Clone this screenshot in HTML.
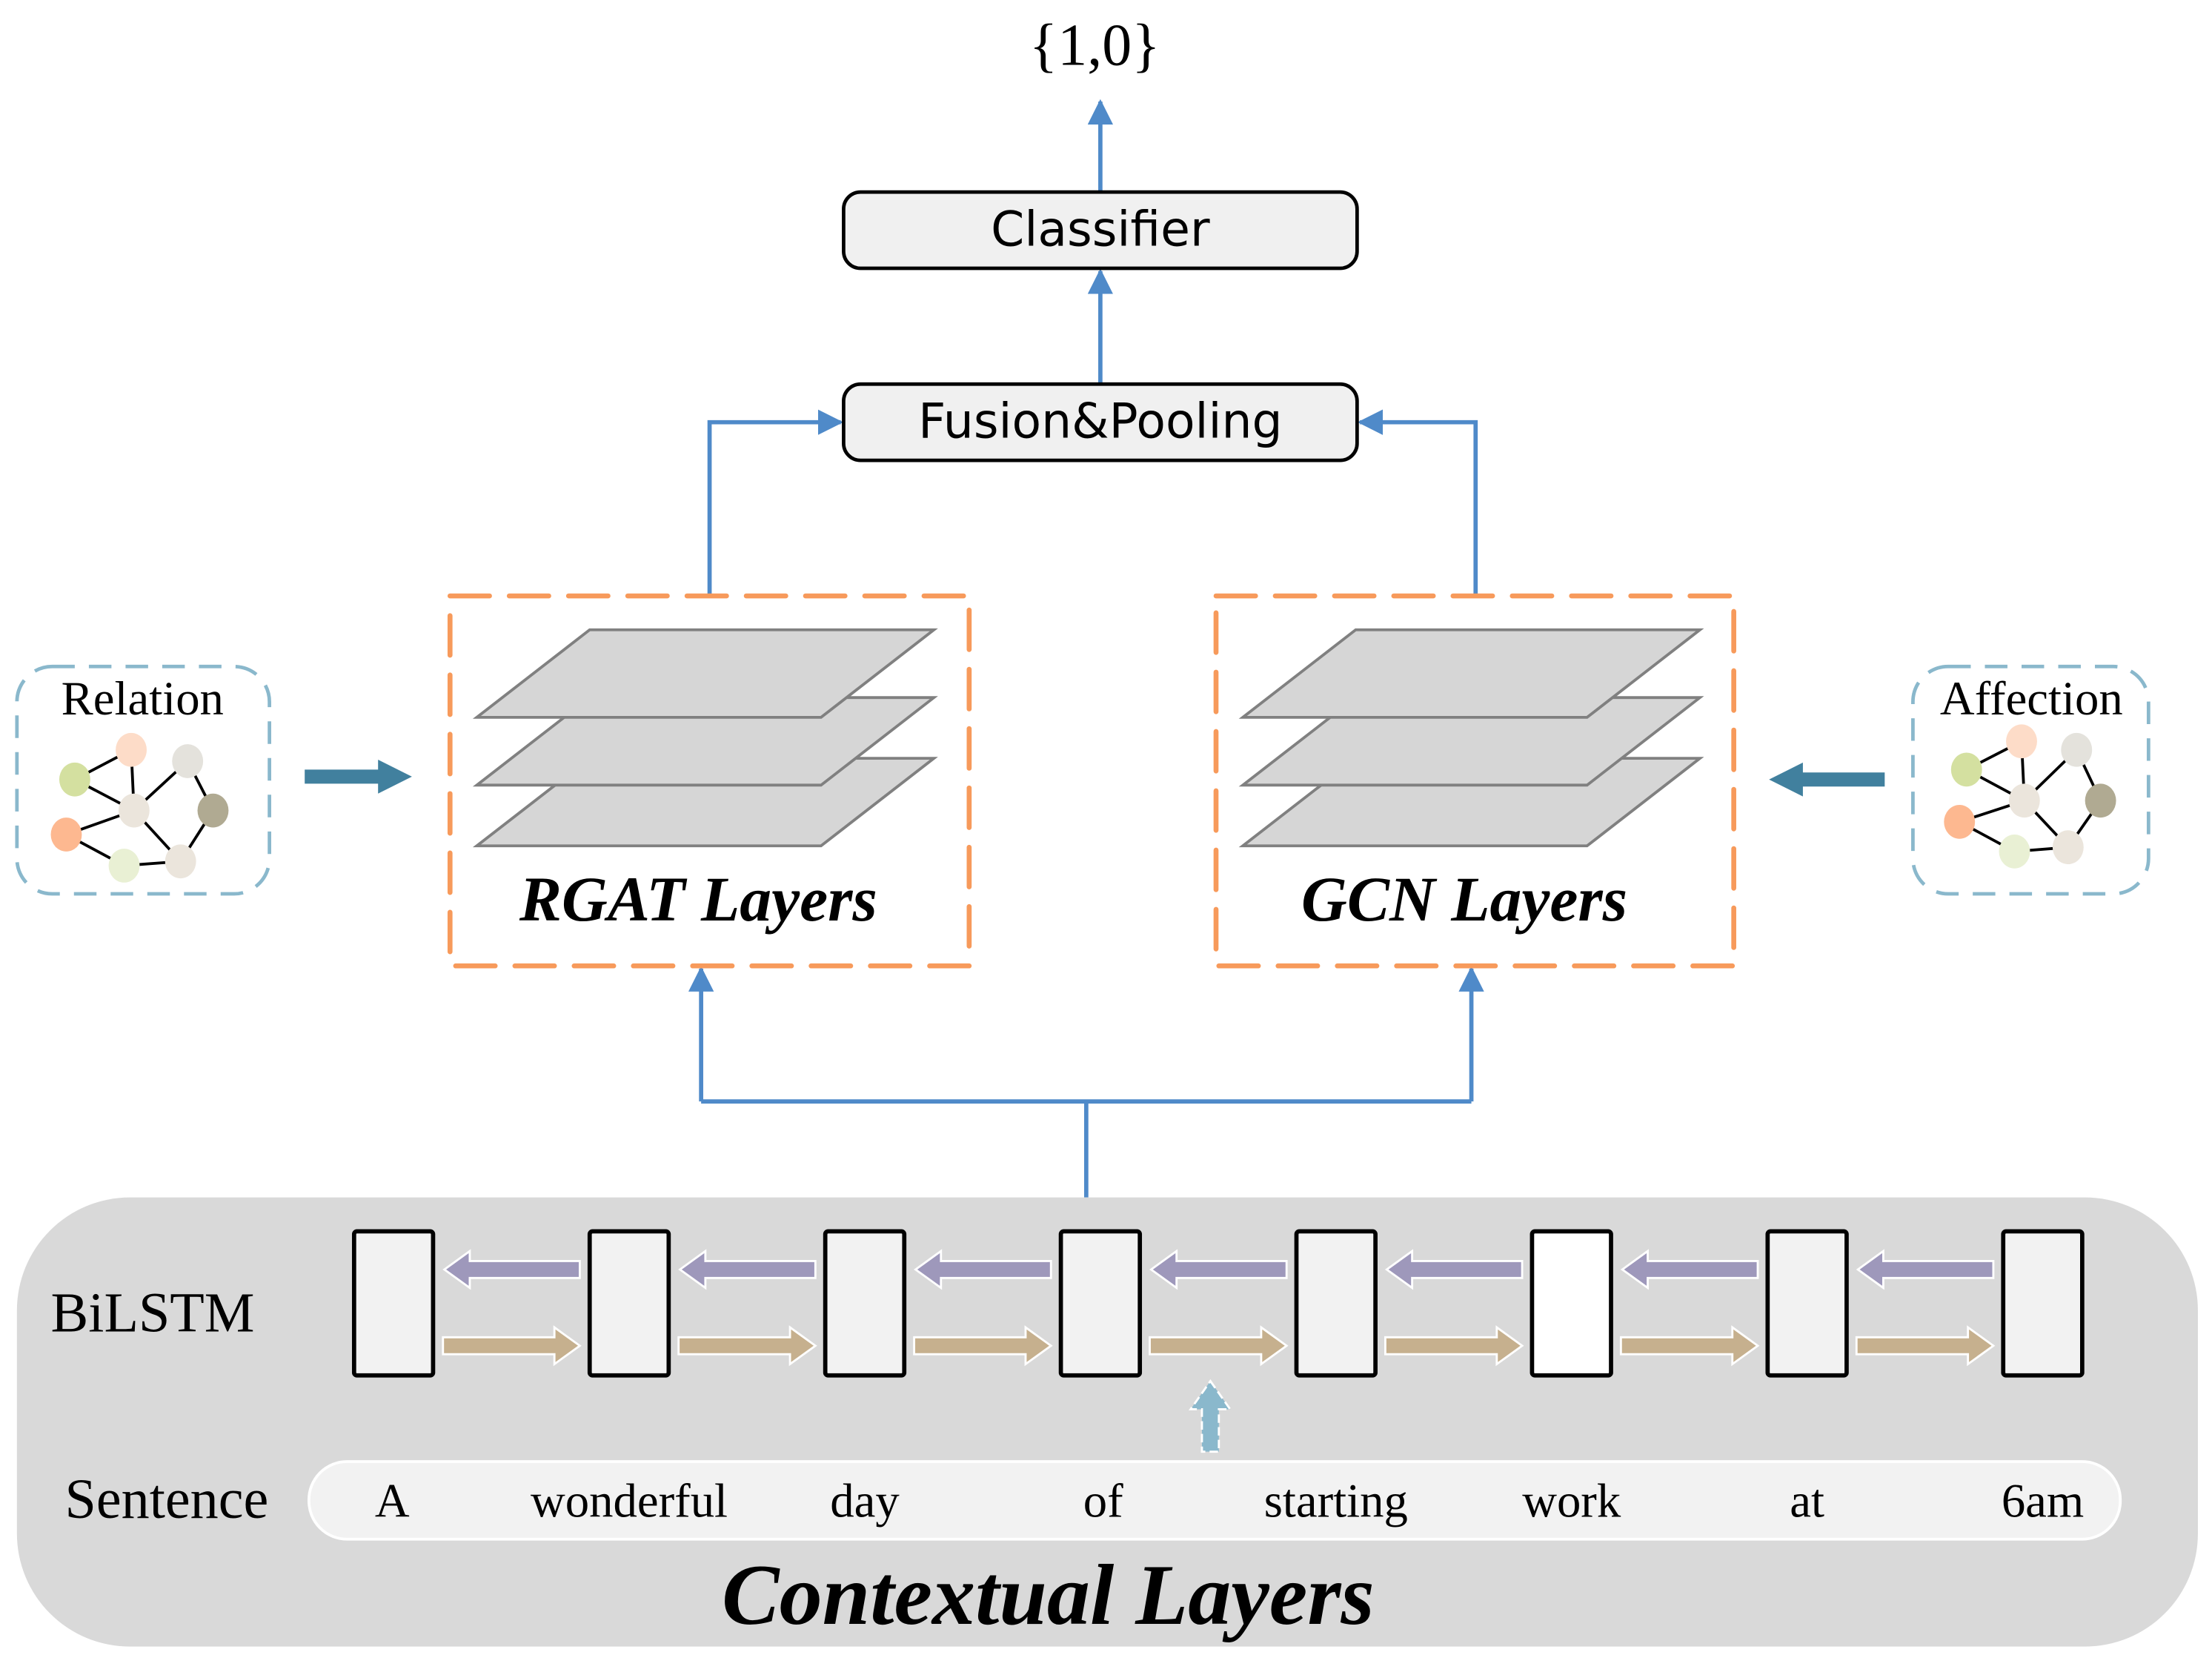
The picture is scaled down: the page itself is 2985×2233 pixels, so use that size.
<!DOCTYPE html>
<html><head><meta charset="utf-8"><style>html,body{margin:0;padding:0;background:#fff}svg{display:block}</style></head><body>
<svg width="2985" height="2233" viewBox="0 0 1568 1172" preserveAspectRatio="none" xmlns="http://www.w3.org/2000/svg">
<defs>
<marker id="ah" viewBox="0 0 10 10" refX="9" refY="5" markerWidth="6" markerHeight="6" orient="auto"><path d="M0,0 L10,5 L0,10 Z" fill="#4f8ac9"/></marker>
</defs>
<g font-family="Liberation Serif, serif">
<text x="776" y="46" font-size="42" text-anchor="middle">{1,0}</text>
</g>
<g stroke="#4f8ac9" stroke-width="3" fill="none" marker-end="url(#ah)">
<line x1="780" y1="135" x2="780" y2="72"/>
<line x1="780" y1="271" x2="780" y2="192"/>
<polyline points="503,422 503,299 596,299"/>
<polyline points="1046,422 1046,299 964,299"/>
<line x1="497" y1="780" x2="497" y2="686"/>
<line x1="1043" y1="780" x2="1043" y2="686"/>
</g>
<polyline points="770,848 770,780" stroke="#4f8ac9" stroke-width="3" fill="none"/>
<line x1="497" y1="780" x2="1043" y2="780" stroke="#4f8ac9" stroke-width="3"/>
<rect x="598" y="136" width="364" height="54" rx="12" fill="#f0f0f0" stroke="#000" stroke-width="2.5"/>
<text x="780" y="174" font-size="34" text-anchor="middle" font-family="DejaVu Sans, sans-serif">Classifier</text>
<rect x="598" y="272" width="364" height="54" rx="12" fill="#f0f0f0" stroke="#000" stroke-width="2.5"/>
<text x="780" y="310" font-size="34" text-anchor="middle" font-family="DejaVu Sans, sans-serif">Fusion&amp;Pooling</text>
<g stroke="#f79a5b" stroke-width="3.5" fill="none" stroke-dasharray="28,14" stroke-linecap="round">
<rect x="319" y="422" width="368" height="262"/>
<rect x="862" y="422" width="367" height="262"/>
</g>
<g fill="#d6d6d6" stroke="#808080" stroke-width="2">
<polygon points="418,537 662,537 582,599 338,599"/>
<polygon points="418,494 662,494 582,556 338,556"/>
<polygon points="418,446 662,446 582,508 338,508"/>
<polygon points="961,537 1205,537 1125,599 881,599"/>
<polygon points="961,494 1205,494 1125,556 881,556"/>
<polygon points="961,446 1205,446 1125,508 881,508"/>
</g>
<g font-family="Liberation Serif, serif" font-weight="bold" font-style="italic" font-size="45" text-anchor="middle">
<text x="495" y="652">RGAT Layers</text>
<text x="1038" y="652">GCN Layers</text>
</g>
<g stroke="#8ab8cc" stroke-width="2.5" fill="none" stroke-dasharray="16,10">
<rect x="12" y="472" width="179" height="161" rx="25"/>
<rect x="1356" y="472" width="167" height="161" rx="25"/>
</g>
<g font-family="Liberation Serif, serif" font-size="34" text-anchor="middle">
<text x="101" y="506">Relation</text>
<text x="1440" y="506">Affection</text>
</g>
<g stroke="#000" stroke-width="2">
<path d="M53,552 L93,531 M53,552 L95,574 M93,531 L95,574 M95,574 L133,539 M133,539 L151,574 M95,574 L47,591 M47,591 L88,613 M95,574 L128,610 M128,610 L88,613 M151,574 L128,610"/>
<path d="M1394,545 L1433,525 M1394,545 L1435,567 M1433,525 L1435,567 M1435,567 L1472,531 M1472,531 L1489,567 M1435,567 L1389,582 M1389,582 L1428,603 M1435,567 L1466,600 M1466,600 L1428,603 M1489,567 L1466,600"/>
</g>
<g>
<ellipse cx="53" cy="552" rx="11" ry="12" fill="#d4e0a0"/><ellipse cx="93" cy="531" rx="11" ry="12" fill="#fddcc8"/><ellipse cx="133" cy="539" rx="11" ry="12" fill="#e4e2dc"/><ellipse cx="95" cy="574" rx="11" ry="12" fill="#ebe5dc"/><ellipse cx="151" cy="574" rx="11" ry="12" fill="#b0aa92"/><ellipse cx="47" cy="591" rx="11" ry="12" fill="#fdb890"/><ellipse cx="88" cy="613" rx="11" ry="12" fill="#e9f0d4"/><ellipse cx="128" cy="610" rx="11" ry="12" fill="#ebe5dc"/>
<ellipse cx="1394" cy="545" rx="11" ry="12" fill="#d4e0a0"/><ellipse cx="1433" cy="525" rx="11" ry="12" fill="#fddcc8"/><ellipse cx="1472" cy="531" rx="11" ry="12" fill="#e4e2dc"/><ellipse cx="1435" cy="567" rx="11" ry="12" fill="#ebe5dc"/><ellipse cx="1489" cy="567" rx="11" ry="12" fill="#b0aa92"/><ellipse cx="1389" cy="582" rx="11" ry="12" fill="#fdb890"/><ellipse cx="1428" cy="603" rx="11" ry="12" fill="#e9f0d4"/><ellipse cx="1466" cy="600" rx="11" ry="12" fill="#ebe5dc"/>
</g>
<polygon points="216,545 268,545 268,538 292,550 268,562 268,555 216,555" fill="#41809e"/>
<polygon points="1336,547 1278,547 1278,540 1254,552 1278,564 1278,557 1336,557" fill="#41809e"/>
<rect x="12" y="848" width="1546" height="318" rx="80" fill="#d9d9d9"/>
<g font-family="Liberation Serif, serif" font-size="40">
<text x="36" y="943">BiLSTM</text>
<text x="46" y="1075">Sentence</text>
</g>
<g stroke="#fff" stroke-width="1.5">
<g fill="#9e98bb">
<polygon points="315,899 333,886 333,893 411,893 411,905 333,905 333,912"/>
<polygon points="482,899 500,886 500,893 578,893 578,905 500,905 500,912"/>
<polygon points="649,899 667,886 667,893 745,893 745,905 667,905 667,912"/>
<polygon points="816,899 834,886 834,893 912,893 912,905 834,905 834,912"/>
<polygon points="983,899 1001,886 1001,893 1079,893 1079,905 1001,905 1001,912"/>
<polygon points="1150,899 1168,886 1168,893 1246,893 1246,905 1168,905 1168,912"/>
<polygon points="1317,899 1335,886 1335,893 1413,893 1413,905 1335,905 1335,912"/>
</g>
<g fill="#c6b08e">
<polygon points="314,947 393,947 393,940 411,953 393,966 393,959 314,959"/>
<polygon points="481,947 560,947 560,940 578,953 560,966 560,959 481,959"/>
<polygon points="648,947 727,947 727,940 745,953 727,966 727,959 648,959"/>
<polygon points="815,947 894,947 894,940 912,953 894,966 894,959 815,959"/>
<polygon points="982,947 1061,947 1061,940 1079,953 1061,966 1061,959 982,959"/>
<polygon points="1149,947 1228,947 1228,940 1246,953 1228,966 1228,959 1149,959"/>
<polygon points="1316,947 1395,947 1395,940 1413,953 1395,966 1395,959 1316,959"/>
</g>
</g>
<g stroke="#000" stroke-width="3" fill="#f2f2f2">
<rect x="251" y="872" width="56" height="102" rx="2"/>
<rect x="418" y="872" width="56" height="102" rx="2"/>
<rect x="585" y="872" width="56" height="102" rx="2"/>
<rect x="752" y="872" width="56" height="102" rx="2"/>
<rect x="919" y="872" width="56" height="102" rx="2"/>
<rect x="1086" y="872" width="56" height="102" rx="2" fill="#fff"/>
<rect x="1253" y="872" width="56" height="102" rx="2"/>
<rect x="1420" y="872" width="56" height="102" rx="2"/>
</g>
<polygon points="858,978 872,998 864,998 864,1028 852,1028 852,998 844,998" fill="#8ab8cc" stroke="#fff" stroke-width="1.5" stroke-dasharray="6,3"/>
<rect x="219" y="1035" width="1284" height="55" rx="27" fill="#f2f2f2" stroke="#fff" stroke-width="2"/>
<g font-family="Liberation Serif, serif" font-size="34" text-anchor="middle">
<text x="278" y="1074">A</text><text x="446" y="1074">wonderful</text><text x="613" y="1074">day</text><text x="782" y="1074">of</text><text x="947" y="1074">starting</text><text x="1114" y="1074">work</text><text x="1281" y="1074">at</text><text x="1448" y="1074">6am</text>
</g>
<text x="743" y="1150" font-family="Liberation Serif, serif" font-weight="bold" font-style="italic" font-size="61" text-anchor="middle">Contextual Layers</text>
</svg>
</body></html>
